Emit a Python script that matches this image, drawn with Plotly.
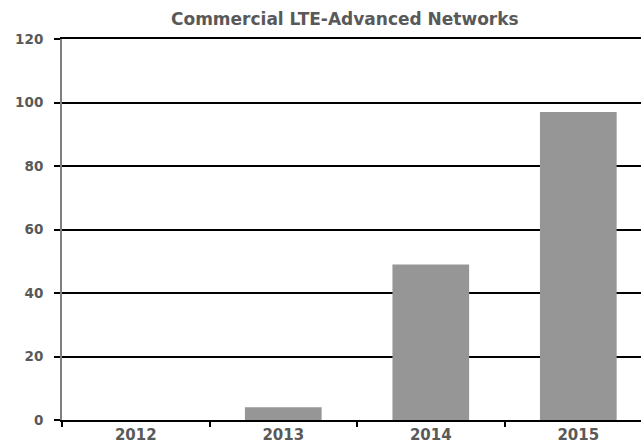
import plotly.graph_objects as go

# Number of commercial LTE-Advanced networks per year
years = ["2012", "2013", "2014", "2015"]
networks = [0, 4, 49, 97]
y_ticks = [0, 20, 40, 60, 80, 100, 120]

TEXT = "#595959"
BAR = "#969696"
FONT = "DejaVu Sans, Verdana, sans-serif"

fig = go.Figure(
    go.Bar(
        x=years,
        y=networks,
        marker=dict(color=BAR, line=dict(width=0)),
        width=0.52,
    )
)

fig.update_layout(
    width=641,
    height=444,
    margin=dict(l=62, r=0, t=39, b=24),
    paper_bgcolor="white",
    plot_bgcolor="white",
    showlegend=False,
    font=dict(family=FONT, color=TEXT),
    annotations=[
        dict(
            text="<b>Commercial LTE-Advanced Networks</b>",
            xref="paper", yref="paper",
            x=(345 - 62) / 579, y=1.0,
            yshift=20,
            xanchor="center", yanchor="middle",
            showarrow=False,
            font=dict(size=17, color=TEXT, family=FONT),
        )
    ],
)

fig.update_xaxes(
    type="category",
    range=[-0.5, 3.425],
    tickson="boundaries",
    ticks="outside",
    ticklen=5,
    tickwidth=1.5,
    tickcolor="black",
    showline=True,
    mirror=True,
    linecolor="black",
    linewidth=2,
    showgrid=False,
    automargin=False,
    ticklabelstandoff=0,
    tickfont=dict(size=15, color=TEXT, family=FONT, weight="bold"),
)

fig.update_yaxes(
    range=[0, 120],
    tickvals=y_ticks,
    ticks="outside",
    ticklen=6,
    tickwidth=1.5,
    tickcolor="black",
    showline=True,
    linecolor="#7f7f7f",
    linewidth=2,
    showgrid=True,
    gridcolor="black",
    gridwidth=1.5,
    zeroline=False,
    automargin=False,
    ticklabelstandoff=8,
    tickfont=dict(size=13.5, color=TEXT, family=FONT, weight="bold"),
)

fig.write_html("out.html")
